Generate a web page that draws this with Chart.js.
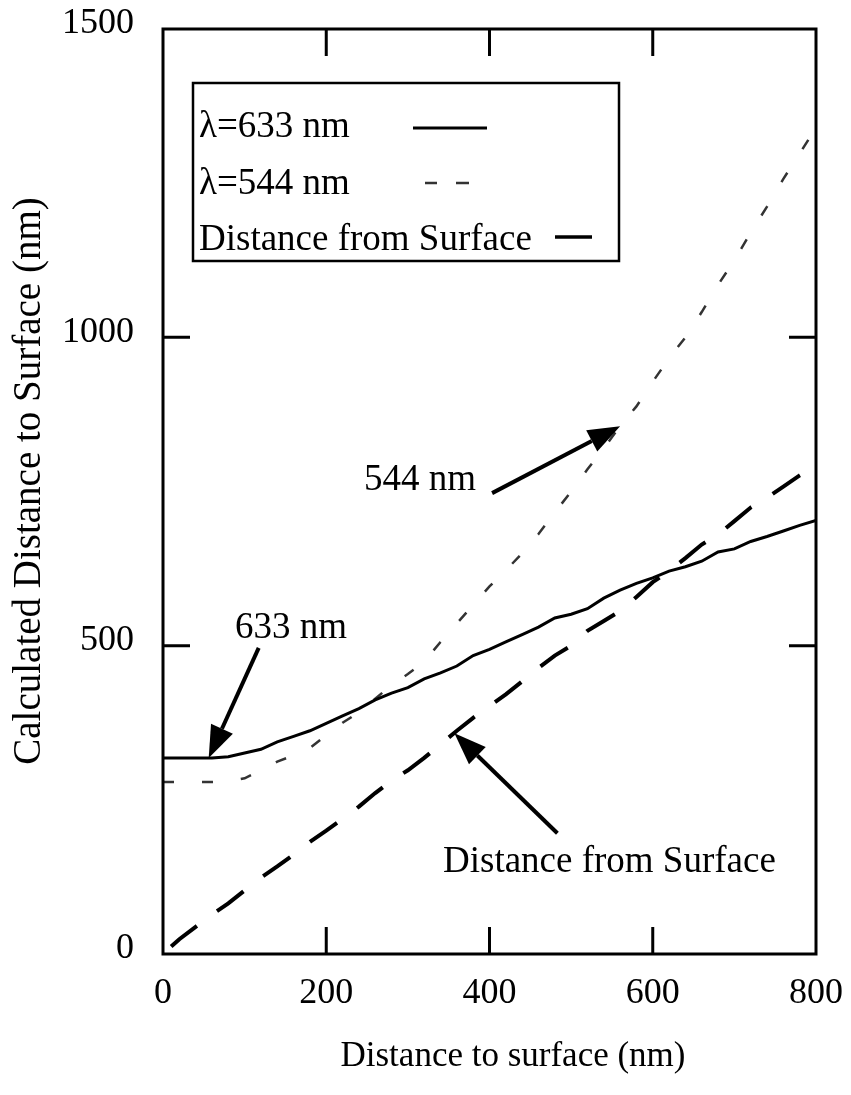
<!DOCTYPE html>
<html>
<head>
<meta charset="utf-8">
<script src="https://cdn.jsdelivr.net/npm/chart.js@4.4.1/dist/chart.umd.min.js"></script>
<style>
  html, body { margin: 0; padding: 0; background: #ffffff; }
  #wrap { width: 851px; height: 1095px; position: relative; }
</style>
</head>
<body>
<div id="wrap"><canvas id="chart"></canvas></div>
<script>
// Positions along the sample (nm)
const xValues = [0, 20, 40, 60, 80, 100, 120, 140, 160, 180, 200, 220, 240, 260, 280, 300,
  320, 340, 360, 380, 400, 420, 440, 460, 480, 500, 520, 540, 560, 580, 600, 620, 640, 660,
  680, 700, 720, 740, 760, 780, 800];

// Calculated distance, λ = 633 nm
const calc633 = [318, 318, 318, 318, 320, 326, 332, 344, 353, 362, 374, 386, 398, 412, 423, 432,
  446, 456, 467, 484, 494, 506, 518, 530, 545, 551, 560, 577, 590, 601, 610, 621, 628, 637,
  652, 657, 669, 677, 686, 695, 703];

// Calculated distance, λ = 544 nm
const calc544 = [279, 279, 279, 279, 280, 285, 298, 312, 322, 334, 355, 375, 392, 414, 436, 454,
  474, 506, 536, 566, 596, 622, 650, 681, 716, 750, 786, 820, 856, 888, 928, 966, 1000, 1041,
  1085, 1125, 1170, 1212, 1257, 1298, 1340];

// Actual distance from the surface
const surfaceX = [10, 20, 40, 60, 80, 100, 120, 140, 160, 180, 200, 220, 240, 260, 280, 300,
  320, 340, 360, 380, 400, 420, 440, 460, 480, 500, 520, 540, 560, 580, 600, 620, 640, 660,
  680, 700, 720, 740, 760, 780, 800];
const surfaceY = [12, 24, 44, 64, 82, 103, 124, 142, 161, 182, 200, 219, 239, 261, 281, 298,
  318, 340, 362, 383, 402, 421, 442, 464, 484, 500, 524, 540, 556, 579, 603, 621, 642, 664,
  680, 702, 724, 740, 758, 776, 792];

const xTicks = [0, 200, 400, 600, 800];
const yTicks = [0, 500, 1000, 1500];

const seriesNames = ['λ=633 nm', 'λ=544 nm', 'Distance from Surface'];
const xTitle = 'Distance to surface (nm)';
const yTitle = 'Calculated Distance to Surface (nm)';

const SERIF = "'Liberation Serif', 'Times New Roman', serif";
const pts = (xs, ys) => xs.map((x, i) => ({ x: x, y: ys[i] }));

function drawArrow(ctx, x1, y1, x2, y2) {
  const ang = Math.atan2(y2 - y1, x2 - x1);
  const headLen = 32, headHalf = 12;
  const bx = x2 - headLen * Math.cos(ang), by = y2 - headLen * Math.sin(ang);
  ctx.beginPath();
  ctx.moveTo(x1, y1);
  ctx.lineTo(bx, by);
  ctx.lineWidth = 4;
  ctx.stroke();
  ctx.beginPath();
  ctx.moveTo(x2, y2);
  ctx.lineTo(bx + headHalf * Math.sin(ang), by - headHalf * Math.cos(ang));
  ctx.lineTo(bx - headHalf * Math.sin(ang), by + headHalf * Math.cos(ang));
  ctx.closePath();
  ctx.fill();
}

const decorations = {
  id: 'decorations',
  afterDraw(chart) {
    const ctx = chart.ctx;
    const a = chart.chartArea;
    const xs = chart.scales.x, ys = chart.scales.y;
    ctx.save();
    ctx.strokeStyle = '#000';
    ctx.fillStyle = '#000';
    ctx.lineCap = 'butt';

    // frame
    ctx.lineWidth = 3;
    ctx.strokeRect(a.left, a.top, a.right - a.left, a.bottom - a.top);

    // inward ticks on all four sides
    const tl = 27;
    ctx.lineWidth = 3;
    xs.ticks.forEach(t => {
      if (t.value <= xs.min || t.value >= xs.max) return;
      const px = xs.getPixelForValue(t.value);
      ctx.beginPath();
      ctx.moveTo(px, a.bottom); ctx.lineTo(px, a.bottom - tl);
      ctx.moveTo(px, a.top); ctx.lineTo(px, a.top + tl);
      ctx.stroke();
    });
    ys.ticks.forEach(t => {
      if (t.value <= ys.min || t.value >= ys.max) return;
      const py = ys.getPixelForValue(t.value);
      ctx.beginPath();
      ctx.moveTo(a.left, py); ctx.lineTo(a.left + tl, py);
      ctx.moveTo(a.right, py); ctx.lineTo(a.right - tl, py);
      ctx.stroke();
    });

    // legend box
    ctx.lineWidth = 2.5;
    ctx.strokeRect(193, 83, 426, 178);
    ctx.font = '37px ' + SERIF;
    ctx.textAlign = 'left';
    ctx.textBaseline = 'alphabetic';
    ctx.fillText(seriesNames[0], 199, 137);
    ctx.fillText(seriesNames[1], 199, 194);
    ctx.fillText(seriesNames[2], 199, 250);
    // legend samples
    ctx.lineWidth = 3;
    ctx.beginPath(); ctx.moveTo(413, 128); ctx.lineTo(487, 128); ctx.stroke();
    ctx.strokeStyle = '#333';
    ctx.lineWidth = 2.5;
    ctx.beginPath();
    ctx.moveTo(425, 183); ctx.lineTo(437, 183);
    ctx.moveTo(456, 183); ctx.lineTo(469, 183);
    ctx.stroke();
    ctx.strokeStyle = '#000';
    ctx.lineWidth = 3.5;
    ctx.beginPath(); ctx.moveTo(555, 237); ctx.lineTo(592, 237); ctx.stroke();

    // callouts
    ctx.font = '37px ' + SERIF;
    ctx.fillText('633 nm', 235, 638);
    ctx.fillText('544 nm', 364, 490);
    ctx.fillText('Distance from Surface', 443, 872);
    const t633 = { x: xs.getPixelForValue(56), y: ys.getPixelForValue(318) };
    drawArrow(ctx, t633.x + 50, t633.y - 110, t633.x, t633.y);
    const t544 = { x: xs.getPixelForValue(560), y: ys.getPixelForValue(856) };
    drawArrow(ctx, t544.x - 128, t544.y + 67, t544.x, t544.y);
    const tSurf = { x: xs.getPixelForValue(357), y: ys.getPixelForValue(358) };
    drawArrow(ctx, tSurf.x + 103, tSurf.y + 100, tSurf.x, tSurf.y);

    // axis titles
    ctx.font = '35px ' + SERIF;
    ctx.textAlign = 'center';
    ctx.fillText(xTitle, 513, 1066);
    ctx.save();
    ctx.font = '39px ' + SERIF;
    ctx.translate(40, 481);
    ctx.rotate(-Math.PI / 2);
    ctx.fillText(yTitle, 0, 0);
    ctx.restore();

    ctx.restore();
  }
};

new Chart(document.getElementById('chart'), {
  type: 'line',
  data: {
    datasets: [
      {
        label: seriesNames[0],
        data: pts(xValues, calc633),
        borderColor: '#000',
        borderWidth: 3,
        pointRadius: 0,
        tension: 0
      },
      {
        label: seriesNames[1],
        data: pts(xValues, calc544),
        borderColor: '#333',
        borderWidth: 2.5,
        borderDash: [11, 28],
        pointRadius: 0,
        tension: 0
      },
      {
        label: seriesNames[2],
        data: pts(surfaceX, surfaceY),
        borderColor: '#000',
        borderWidth: 4,
        borderDash: [33, 25],
        pointRadius: 0,
        tension: 0
      }
    ]
  },
  options: {
    responsive: true,
    maintainAspectRatio: false,
    animation: false,
    devicePixelRatio: 1,
    layout: { padding: { top: 29, right: 35, bottom: 0, left: 0 } },
    plugins: { legend: { display: false }, tooltip: { enabled: false } },
    scales: {
      x: {
        type: 'linear',
        min: 0,
        max: 800,
        afterBuildTicks: s => { s.ticks = xTicks.map(v => ({ value: v })); },
        afterFit: s => { s.height = 141; s.paddingLeft = 0; s.paddingRight = 0; },
        grid: { display: false, drawTicks: false },
        border: { display: false },
        ticks: {
          padding: 18,
          maxRotation: 0,
          color: '#000',
          font: { family: SERIF, size: 36 },
          callback: v => String(v)
        }
      },
      y: {
        type: 'linear',
        min: 0,
        max: 1500,
        afterBuildTicks: s => { s.ticks = yTicks.map(v => ({ value: v })); },
        afterFit: s => { s.width = 163; s.paddingTop = 0; s.paddingBottom = 0; },
        grid: { display: false, drawTicks: false },
        border: { display: false },
        ticks: {
          padding: 29,
          labelOffset: -5,
          color: '#000',
          font: { family: SERIF, size: 36 },
          callback: v => String(v)
        }
      }
    }
  },
  plugins: [decorations]
});
</script>
</body>
</html>
